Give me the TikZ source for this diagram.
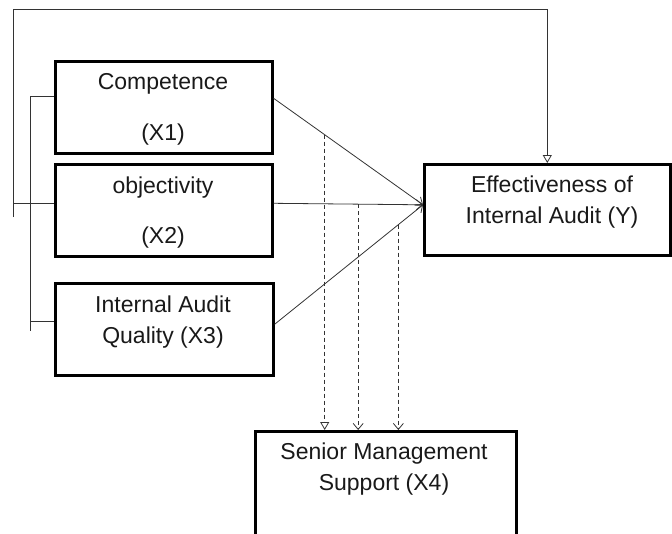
\documentclass[tikz,border=0pt]{standalone}
\usepackage{fontspec}
\setmainfont{Liberation Sans}
\usetikzlibrary{arrows.meta}

\begin{document}
\begin{tikzpicture}[x=1pt, y=-1pt,
  every node/.style={font=\fontsize{23}{31}\selectfont, text=black!90},
  box/.style={draw, line width=2.6pt, anchor=north west, inner sep=0pt},
  lbl/.style={anchor=base, align=center, inner sep=0pt},
  conn/.style={draw=black!80, line width=0.8pt},
  dashc/.style={conn, dash pattern=on 4pt off 3pt},
  opentip/.style={-{Triangle[open, length=8pt, width=9pt]}},
  barbtip/.style={-{Straight Barb[length=6pt, width=10pt]}}]
  \useasboundingbox (0,0) rectangle (672,533);
  \clip (0,0) rectangle (672,533);

  % boxes
  \node[box, minimum width=217pt, minimum height=92pt] (comp) at (54,60) {};
  \node[box, minimum width=217pt, minimum height=92pt] (obj) at (54,163) {};
  \node[box, minimum width=218pt, minimum height=92pt] (qual) at (54,282) {};
  \node[box, minimum width=246pt, minimum height=91pt] (eff) at (423,163) {};
  \node[box, minimum width=261pt, minimum height=130pt] (senior) at (254,430) {};

  % texts (base = last line)
  \node[lbl] (compname) at (163,89) {Competence};
  \node[lbl] (compcode) at (163,140) {(X1)};
  \node[lbl] (objname) at (163,193) {objectivity};
  \node[lbl] (objcode) at (163,243) {(X2)};
  \node[lbl] (qualname) at (163,343) {Internal Audit\\Quality (X3)};
  \node[lbl] (effname) at (552,223) {Effectiveness of\\Internal Audit (Y)};
  \node[lbl] (seniorname) at (384,490) {Senior Management\\Support (X4)};

  % direct paths
  \draw[conn, barbtip] ([yshift=9pt]comp.east) -- coordinate[pos=.342] (m1) ([yshift=5pt]eff.west);
  \draw[conn, barbtip] ([yshift=7pt]obj.east) -- coordinate[pos=.566] (m2) ([yshift=5pt]eff.west);
  \draw[conn, barbtip] ([yshift=5pt]qual.east) -- coordinate[pos=.834] (m3) ([yshift=5pt]eff.west);

  % moderation
  \draw[dashc, opentip] (m1) -- (m1 |- senior.north);
  \draw[dashc, barbtip] (m2) -- (m2 |- senior.north);
  \draw[dashc, barbtip] (m3) -- (m3 |- senior.north);

  % outer loop
  \coordinate (loopbot) at (13,217);
  \coordinate (looptop) at (13,9);
  \draw[conn, opentip] (loopbot) -- (looptop) -| (eff.north);
  \draw[conn] ([yshift=7pt]obj.west) -- ([yshift=7pt]obj.west -| loopbot);

  % bracket
  \coordinate (brtop) at (30,96);
  \coordinate (brbot) at (30,331);
  \draw[conn] (brtop -| comp.west) -- (brtop) -- (brbot);
  \draw[conn] ([yshift=8pt]qual.west) -- ([yshift=8pt]qual.west -| brbot);
\end{tikzpicture}
\end{document}
